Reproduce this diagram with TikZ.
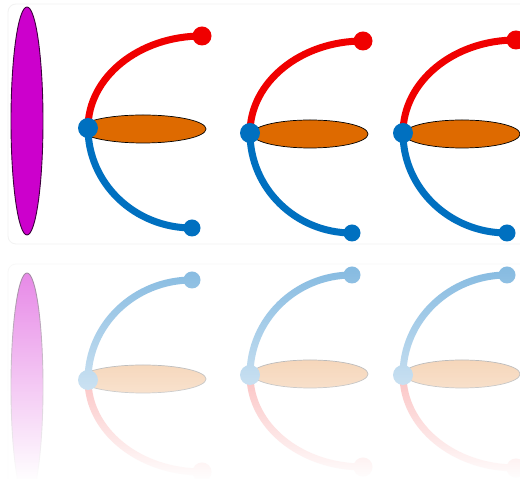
\documentclass[tikz,border=0pt]{standalone}
\usetikzlibrary{fadings}
\definecolor{arcred}{RGB}{240,0,0}
\definecolor{arcblue}{RGB}{0,112,192}
\definecolor{ovalorange}{RGB}{222,106,0}
\definecolor{purplefill}{RGB}{204,0,204}
\definecolor{purpleline}{RGB}{60,0,60}
\tikzfading[name=reflfade, top color=transparent!50, bottom color=transparent!0]
\tikzset{
  redarc/.style={draw=arcred, line width=7pt},
  bluearc/.style={draw=arcblue, line width=7pt},
  reddot/.style={fill=arcred},
  bluedot/.style={fill=arcblue},
  oval/.style={draw=black, line width=0.7pt, fill=ovalorange},
  tallval/.style={draw=purpleline, line width=0.9pt, fill=purplefill},
  panel/.style={draw=black!5, line width=0.8pt, rounded corners=8pt}
}
% #1 cx, #2 cy (page, down), #3 #4 red radii, #5 #6 blue radii, #7 oval cx, #8 oval rx
\newcommand{\mkunit}[8]{%
  \draw[redarc] (#1,479-#2) arc[start angle=180,end angle=90,x radius=#3,y radius=#4];
  \fill[reddot] (#1+#3,479-#2+#4) circle[radius=9.5pt];
  \draw[oval] (#7,478-#2) ellipse[x radius=#8, y radius=14];
  \draw[bluearc] (#1,479-#2) arc[start angle=180,end angle=270,x radius=#5,y radius=#6];
  \fill[bluedot] (#1+#5,479-#2-#6) circle[radius=8.5pt];
  \fill[bluedot] (#1,479-#2) circle[radius=10pt];
}
\newcommand{\mkscene}{%
  \draw[panel] (8,479-4) rectangle (530,479-244);
  \draw[tallval] (27,479-121) ellipse[x radius=16, y radius=114];
  \mkunit{88}{128}{114}{92}{104}{100}{143}{63}
  \mkunit{250}{133}{113}{92}{102}{100}{310}{58}
  \mkunit{403}{133}{113}{93}{104}{100}{462}{58}
}
\begin{document}
\begin{tikzpicture}[x=1pt,y=1pt]
  \useasboundingbox (0,0) rectangle (520,479);
  \fill[white] (0,0) rectangle (520,479);
  \begin{scope}
    \clip (0,0) rectangle (520,479);
    \mkscene
    \begin{scope}[shift={(0,450)}, yscale=-1]
      \mkscene
    \end{scope}
    \fill[white, path fading=reflfade] (-2,-2) rectangle (522,479-256);
  \end{scope}
\end{tikzpicture}
\end{document}
